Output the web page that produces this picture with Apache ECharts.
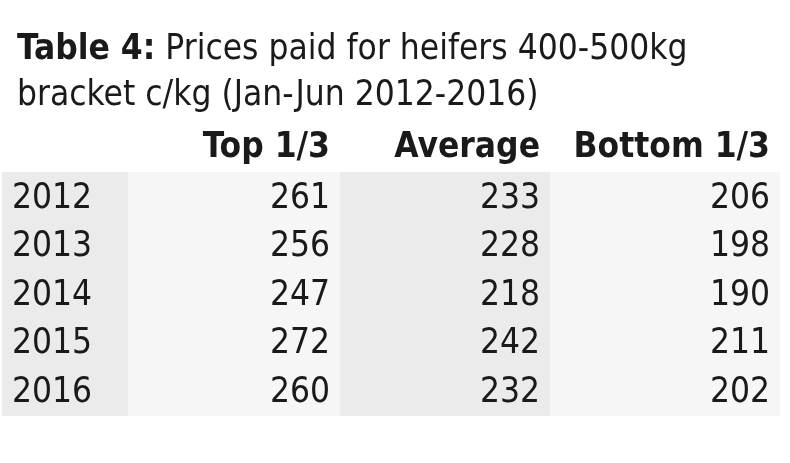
<!DOCTYPE html>
<html>
<head>
<meta charset="utf-8">
<script src="https://cdn.jsdelivr.net/npm/echarts@6/dist/echarts.min.js"></script>
<style>html,body{margin:0;padding:0;background:#fff}#box{width:790px;height:463px}</style>
</head>
<body>
<div id="box"></div>
<script>
var years = ['2012', '2013', '2014', '2015', '2016'];
var columns = ['Top 1/3', 'Average', 'Bottom 1/3'];
var top3 = [261, 256, 247, 272, 260];
var average = [233, 228, 218, 242, 232];
var bottom3 = [206, 198, 190, 211, 202];

// column edges on the x axis (layout only)
var edges = [2, 128, 340, 550, 780];
var shades = ['#ebebeb', '#f6f6f6', '#ebebeb', '#f6f6f6'];
var font = "'Liberation Sans Narrow', 'DejaVu Sans Condensed', sans-serif";

var rows = ['head'].concat(years);
var cells = [];
for (var c = 0; c < columns.length; c++) {
    cells.push([c + 1, 'head', columns[c], 1]);
}
for (var i = 0; i < years.length; i++) {
    cells.push([0, years[i], years[i], 0]);
    cells.push([1, years[i], String(top3[i]), 0]);
    cells.push([2, years[i], String(average[i]), 0]);
    cells.push([3, years[i], String(bottom3[i]), 0]);
}

var myChart = echarts.init(document.getElementById('box'));
var option = {
    backgroundColor: '#fff',
    animation: false,
    title: {
        left: 12,
        top: 22,
        text: '{b|Table 4:} Prices paid for heifers 400-500kg\nbracket c/kg (Jan-Jun 2012-2016)',
        textStyle: {
            fontFamily: font,
            fontSize: 35,
            fontWeight: 'normal',
            color: '#1a1a1a',
            lineHeight: 46,
            rich: {
                b: { fontFamily: font, fontSize: 35, fontWeight: 'bold', color: '#1a1a1a' }
            }
        }
    },
    grid: { left: 0, right: 0, top: 124, bottom: 48 },
    xAxis: { type: 'value', min: 0, max: 790, show: false },
    yAxis: { type: 'category', data: rows, inverse: true, show: false },
    series: [{
        type: 'custom',
        data: cells,
        renderItem: function (params, api) {
            var col = api.value(0);
            var p = api.coord([edges[col], api.value(1)]);
            var q = api.coord([edges[col + 1], api.value(1)]);
            var h = api.size([0, 1])[1];
            var isHead = api.value(3) === 1;
            var left = col === 0;
            var children = [];
            if (!isHead) {
                children.push({
                    type: 'rect',
                    shape: { x: p[0], y: Math.floor(p[1] - h / 2), width: q[0] - p[0], height: Math.ceil(h) + 1 },
                    style: { fill: shades[col] }
                });
            }
            children.push({
                type: 'text',
                z2: 10,
                style: {
                    text: api.value(2),
                    x: left ? p[0] + 10 : q[0] - 10,
                    y: p[1] + (isHead ? 0 : 2),
                    align: left ? 'left' : 'right',
                    verticalAlign: 'middle',
                    fontFamily: font,
                    fontSize: 35,
                    fontWeight: isHead ? 'bold' : 'normal',
                    fill: '#1a1a1a'
                }
            });
            return { type: 'group', children: children };
        }
    }]
};
myChart.setOption(option);
</script>
</body>
</html>
